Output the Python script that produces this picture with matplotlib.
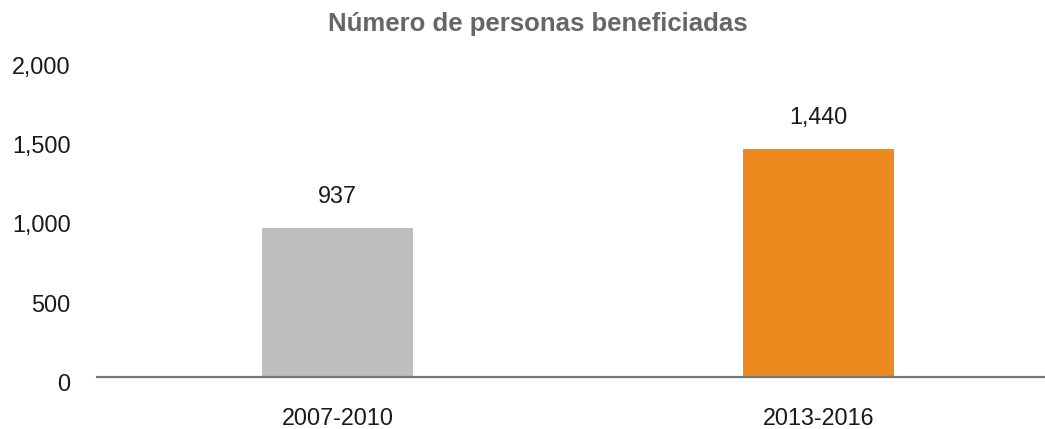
import matplotlib
matplotlib.use('Agg')
import matplotlib.pyplot as plt
import matplotlib.transforms as mtransforms
from matplotlib.ticker import FuncFormatter

periods = ['2007-2010', '2013-2016']
beneficiaries = [937, 1440]
bar_colors = ['#bdbec0', '#ec8a20']

plt.rcParams['font.family'] = ['Liberation Sans', 'DejaVu Sans']


def main():
	fig = plt.figure(figsize=(10.45, 4.29), dpi=100)
	ax = fig.add_axes([97 / 1045, 52.3 / 429, 948 / 1045, 316.7 / 429])

	x = list(range(len(periods)))
	bars = ax.bar(x, beneficiaries, width=0.314, color=bar_colors)

	for rect, val in zip(bars, beneficiaries):
		ax.annotate(f'{val:,}', xy=(rect.get_x() + rect.get_width() / 2, rect.get_height()),
			xytext=(0, 18), textcoords='offset points', ha='center', va='baseline',
			fontsize=16.8, color='#1a1a1a')

	ax.set_xlim(-0.5, 1.47)
	ax.set_ylim(0, 2000)
	ax.set_yticks([0, 500, 1000, 1500, 2000])
	ax.yaxis.set_major_formatter(FuncFormatter(lambda v, p: f'{int(v):,}'))
	ax.set_xticks(x)
	ax.set_xticklabels(periods)

	ax.tick_params(axis='y', length=0, pad=19, labelsize=16.8, labelcolor='#1a1a1a')
	ax.tick_params(axis='x', length=0, pad=22, labelsize=16.8, labelcolor='#1a1a1a')

	# y labels sit a little below their grid value in the original
	offset = mtransforms.ScaledTranslation(0, -5 / 100, fig.dpi_scale_trans)
	for lab in ax.get_yticklabels():
		lab.set_transform(lab.get_transform() + offset)

	for side in ['top', 'right', 'left']:
		ax.spines[side].set_visible(False)
	ax.spines['bottom'].set_color('#777777')
	ax.spines['bottom'].set_linewidth(1.6)

	fig.text(538 / 1045, 1 - 31 / 429, 'Número de personas beneficiadas', ha='center', va='baseline',
		fontsize=18.5, fontweight='bold', color='#666666')

	fig.savefig('out.png', dpi=100)


if __name__ == '__main__':
	main()
